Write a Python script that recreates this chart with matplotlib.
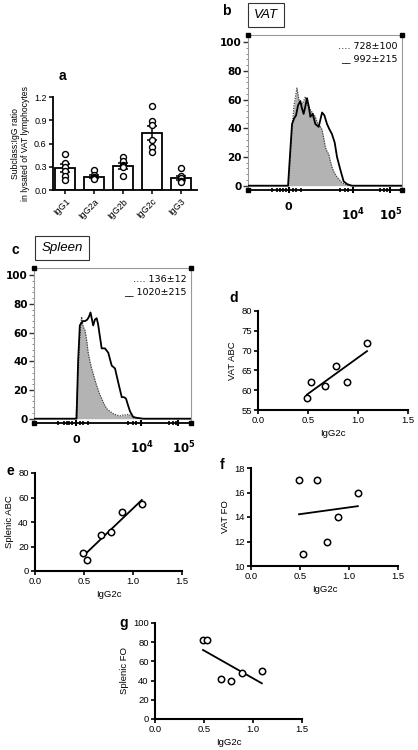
import numpy as np
import matplotlib
matplotlib.use("Agg")
import matplotlib.pyplot as plt
from matplotlib.transforms import blended_transform_factory

plt.rcParams['font.family'] = ['Liberation Sans', 'DejaVu Sans']

W, H = 418, 750
fig = plt.figure(figsize=(W / 100, H / 100), dpi=100)

def ax_px(l, r, t, b):
    return fig.add_axes([l / W, 1 - b / H, (r - l) / W, (b - t) / H])

def ftxt(x, y, s, **kw):
    fig.text(x / W, 1 - y / H, s, **kw)

# ---------------- data ----------------
subclasses = ['IgG1', 'IgG2a', 'IgG2b', 'IgG2c', 'IgG3']
ratio_means = [0.28, 0.17, 0.31, 0.74, 0.15]
ratio_sem = [0.05, 0.02, 0.035, 0.09, 0.025]
ratio_points = [
    [0.46, 0.35, 0.30, 0.25, 0.18, 0.13],
    [0.26, 0.19, 0.17, 0.16, 0.15, 0.14],
    [0.42, 0.37, 0.32, 0.31, 0.30, 0.18],
    [1.09, 0.89, 0.84, 0.65, 0.55, 0.49],
    [0.28, 0.18, 0.15, 0.12, 0.11, 0.10],
]

# histogram channels (biexponential display scale, 0-1000) and % of max
vat_ctrl_x = [0, 240, 264, 275, 285, 299, 310, 318, 330, 340, 355, 372, 385, 394, 410, 425, 437, 450, 465,
              481, 492, 502, 513, 524, 535, 545, 560, 578, 595, 610, 630, 654, 700, 1000]
vat_ctrl_y = [0, 0, 0, 20, 38, 56, 63, 68, 60, 58, 57, 62, 57, 55, 52, 50, 48, 44, 42, 39, 33, 27, 24, 22,
              17, 13, 9, 6, 4, 2, 1, 0, 0, 0]
vat_ab_x = [0, 250, 260, 275, 286, 300, 312, 325, 340, 350, 361, 372, 383, 395, 405, 420, 437, 459, 470,
            481, 496, 513, 530, 545, 563, 578, 600, 621, 645, 675, 720, 1000]
vat_ab_y = [0, 0, 0, 25, 43, 47, 49, 56, 59, 54, 50, 55, 61, 55, 48, 50, 43, 41, 46, 51, 49, 43, 39, 36,
            30, 20, 11, 3, 1, 0, 0, 0]
vat_legend = ['728\u00b1100', '992\u00b1215']

spl_ctrl_x = [0, 267, 281, 292, 303, 313, 324, 335, 345, 356, 367, 383, 399, 415, 431, 447, 463, 485, 505,
              525, 548, 565, 580, 601, 623, 655, 697, 1000]
spl_ctrl_y = [0, 0, 30, 55, 71, 64, 62, 55, 46, 40, 35, 29, 23, 18, 14, 10, 7, 5, 3.5, 2.5, 2, 2.5, 2.5,
              3, 2, 0.5, 0, 0]
spl_ab_x = [0, 271, 281, 292, 303, 313, 325, 339, 350, 360, 377, 388, 399, 408, 416, 431, 452, 473, 485,
            495, 516, 537, 559, 573, 586, 600, 612, 633, 660, 697, 1000]
spl_ab_y = [0, 0, 40, 65, 67, 68, 68, 69, 71, 74, 65, 69, 70, 66, 60, 49, 49, 46, 41, 37, 35, 25, 15, 15,
            14, 9, 5, 1, 0.5, 0, 0]
spl_legend = ['136\u00b112', '1020\u00b1215']

igg2c = [0.49, 0.53, 0.67, 0.78, 0.89, 1.09]
vat_abc = [58, 62, 61, 66, 62, 72]
splenic_abc = [15, 9, 29, 32, 48, 55]
vat_fo = [17, 11, 17, 12, 14, 16]
splenic_fo = [82, 82, 42, 40, 48, 50]

# ---------------- panel a ----------------
axa = ax_px(53, 197, 97, 190)
xpos = np.arange(len(subclasses))
axa.bar(xpos, ratio_means, width=0.7, color='white', edgecolor='black', linewidth=1.3, zorder=2)
axa.errorbar(xpos, ratio_means, yerr=ratio_sem, fmt='none', ecolor='black', elinewidth=1.1,
             capsize=3.5, capthick=1.1, zorder=3)
for i, pts in enumerate(ratio_points):
    axa.plot([xpos[i]] * len(pts), pts, 'o', mfc='white', mec='black', ms=4.3, mew=1.0, zorder=4)
axa.set_xlim(-0.42, 4.55)
axa.set_ylim(0, 1.2)
axa.set_yticks([0.0, 0.3, 0.6, 0.9, 1.2])
axa.set_yticklabels(['0.0', '0.3', '0.6', '0.9', '1.2'], fontsize=6.5)
axa.set_xticks(xpos)
axa.set_xticklabels(subclasses, fontsize=6.5, rotation=45, ha='right', rotation_mode='anchor')
for s in ['top', 'right']:
    axa.spines[s].set_visible(False)
for s in ['left', 'bottom']:
    axa.spines[s].set_linewidth(1.3)
axa.tick_params(axis='y', length=3, width=1.1, pad=1.5)
axa.tick_params(axis='x', length=3, width=1.1, pad=2)
axa.set_ylabel('Subclass:IgG ratio\nin lysated of VAT lymphocytes', fontsize=6.2, labelpad=3,
               linespacing=1.1)
ftxt(62, 76, 'a', fontsize=10, fontweight='bold', ha='center', va='center')

# ---------------- histograms ----------------
def hist_panel(ax, cx, cy, ax_x, ax_y, legend, xlabels_pos):
    ax.fill_between(cx, cy, color='#b3b3b3', zorder=1, linewidth=0)
    ax.plot(cx, cy, linestyle=(0, (1, 1)), color='#444444', lw=0.9, zorder=2)
    ax.plot(ax_x, ax_y, color='black', lw=1.3, zorder=3)
    ax.set_xlim(0, 1000)
    ax.set_ylim(-3, 105)
    for s in ['top', 'right', 'left']:
        ax.spines[s].set_color('#999999')
        ax.spines[s].set_linewidth(0.8)
    ax.spines['bottom'].set_color('black')
    ax.spines['bottom'].set_linewidth(1.3)
    ax.set_yticks([0, 20, 40, 60, 80, 100])
    ax.set_yticklabels(['0', '20', '40', '60', '80', '100'], fontsize=7.5, fontweight='bold',
                       family='DejaVu Sans')
    ax.set_yticks(np.arange(0, 105, 4), minor=True)
    ax.tick_params(axis='y', which='major', length=3.5, width=1.0, pad=1, color='#333333')
    ax.tick_params(axis='y', which='minor', length=1.5, width=0.6, color='#777777')
    ax.set_xticks([265, 680, 920])
    ax.set_xticklabels([])
    ax.set_xticks([155, 188, 210, 225, 245, 290, 314, 342, 600, 630, 650, 860, 885, 905], minor=True)
    ax.tick_params(axis='x', which='major', length=4, width=1.5, direction='inout')
    ax.tick_params(axis='x', which='minor', length=2.5, width=1.2, direction='inout')
    tr = blended_transform_factory(ax.transData, ax.transAxes)
    ax.text(xlabels_pos[0], -0.08, '0', transform=tr, ha='center', va='top', fontsize=8,
            fontweight='bold', family='DejaVu Sans')
    ax.text(xlabels_pos[1], -0.105, r'$\mathbf{10^4}$', transform=tr, ha='center', va='top', fontsize=8.5)
    ax.text(xlabels_pos[2], -0.105, r'$\mathbf{10^5}$', transform=tr, ha='center', va='top', fontsize=8.5)
    ax.plot([0, 1, 0, 1], [0, 0, 1, 1], 's', color='black', ms=2.6, transform=ax.transAxes,
            clip_on=False, zorder=5)
    ax.text(0.97, 0.925, '\u2026. ' + legend[0], transform=ax.transAxes, ha='right', va='center',
            fontsize=6.8, family='DejaVu Sans')
    ax.text(0.97, 0.845, '__ ' + legend[1], transform=ax.transAxes, ha='right', va='center',
            fontsize=6.8, family='DejaVu Sans')

axb = ax_px(248, 402, 35, 190)
hist_panel(axb, vat_ctrl_x, vat_ctrl_y, vat_ab_x, vat_ab_y, vat_legend, [262, 680, 925])
ftxt(226, 11, 'b', fontsize=10, fontweight='bold', ha='center', va='center')
ftxt(266, 15, 'VAT', fontsize=9.5, style='italic', ha='center', va='center',
     bbox=dict(boxstyle='square,pad=0.45', fc='white', ec='#333333', lw=0.8))

axc = ax_px(34, 191, 268, 423)
hist_panel(axc, spl_ctrl_x, spl_ctrl_y, spl_ab_x, spl_ab_y, spl_legend, [267, 690, 955])
ftxt(15, 250, 'c', fontsize=10, fontweight='bold', ha='center', va='center')
ftxt(62, 248, 'Spleen', fontsize=9.5, style='italic', ha='center', va='center',
     bbox=dict(boxstyle='square,pad=0.45', fc='white', ec='#333333', lw=0.8))

# ---------------- scatter panels ----------------
def scatter_panel(ax, x, y, ylim, yticks, ylabel, xlabel=True):
    slope, icpt = np.polyfit(x, y, 1)
    xs = np.array([min(x), max(x)])
    ax.plot(xs, slope * xs + icpt, color='black', lw=1.3, zorder=2)
    ax.plot(x, y, 'o', mfc='white', mec='black', ms=4.6, mew=1.1, zorder=3, clip_on=False)
    ax.set_xlim(0, 1.5)
    ax.set_ylim(*ylim)
    ax.set_xticks([0.0, 0.5, 1.0, 1.5])
    ax.set_xticklabels(['0.0', '0.5', '1.0', '1.5'], fontsize=6.8)
    ax.set_yticks(yticks)
    ax.set_yticklabels([str(v) for v in yticks], fontsize=6.8)
    for s in ['top', 'right']:
        ax.spines[s].set_visible(False)
    for s in ['left', 'bottom']:
        ax.spines[s].set_linewidth(1.5)
    ax.tick_params(length=3, width=1.2, pad=1.5)
    ax.set_ylabel(ylabel, fontsize=6.8, labelpad=3)
    if xlabel:
        ax.set_xlabel('IgG2c', fontsize=6.8, labelpad=3)

axd = ax_px(258, 408, 311, 410)
scatter_panel(axd, igg2c, vat_abc, (55, 80), [55, 60, 65, 70, 75, 80], 'VAT ABC')
ftxt(234, 298, 'd', fontsize=10, fontweight='bold', ha='center', va='center')

axe = ax_px(35, 182, 473, 571)
scatter_panel(axe, igg2c, splenic_abc, (0, 80), [0, 20, 40, 60, 80], 'Splenic ABC')
ftxt(10, 471, 'e', fontsize=10, fontweight='bold', ha='center', va='center')

axf = ax_px(251, 398, 468, 566)
scatter_panel(axf, igg2c, vat_fo, (10, 18), [10, 12, 14, 16, 18], 'VAT FO')
ftxt(222, 465, 'f', fontsize=10, fontweight='bold', ha='center', va='center')

axg = ax_px(155, 302, 623, 719)
scatter_panel(axg, igg2c, splenic_fo, (0, 100), [0, 20, 40, 60, 80, 100], 'Splenic FO')
ftxt(124, 623, 'g', fontsize=10, fontweight='bold', ha='center', va='center')

fig.savefig('out.png', dpi=100)
